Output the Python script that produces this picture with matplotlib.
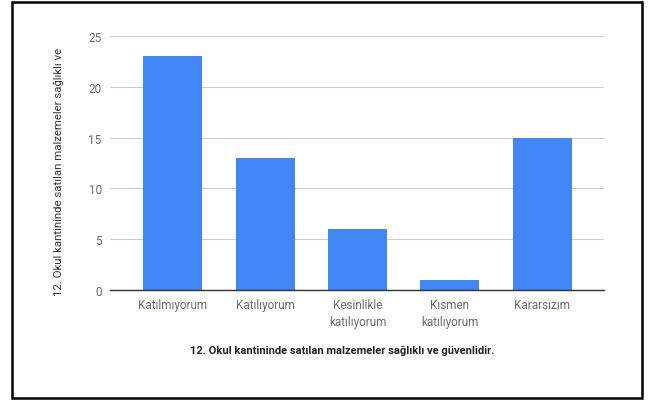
import matplotlib.pyplot as plt
from matplotlib.patches import Rectangle

plt.rcParams['font.family'] = ['Roboto', 'DejaVu Sans']

categories = ['Katılmıyorum', 'Katılıyorum', 'Kesinlikle\nkatılıyorum', 'Kısmen\nkatılıyorum', 'Kararsızım']
counts = [23, 13, 6, 1, 15]
y_ticks = [0, 5, 10, 15, 20, 25]
question = '12. Okul kantininde satılan malzemeler sağlıklı ve güvenlidir.'
y_title = '12. Okul kantininde satılan malzemeler sağlıklı ve'

fig = plt.figure(figsize=(6.53, 4.02), dpi=100)
ax = fig.add_axes([0.1685, 0.276, 0.7565, 0.632])

x = list(range(len(categories)))
ax.bar(x, counts, width=0.64, color='#4285F4', zorder=3)
ax.set_xlim(-0.68, len(categories) - 1 + 0.67)
ax.set_ylim(0, 25)
ax.set_yticks(y_ticks)
ax.set_xticks(x)
ax.set_xticklabels(categories, linespacing=1.35)
ax.tick_params(axis='both', length=0, labelsize=8.5, colors='#6a6a6a')
ax.tick_params(axis='x', pad=6)
ax.tick_params(axis='y', pad=6)
ax.grid(axis='y', color='#cccccc', linewidth=0.8, zorder=0)
for side in ['top', 'right', 'left']:
    ax.spines[side].set_visible(False)
ax.spines['bottom'].set_color('#333333')
ax.spines['bottom'].set_linewidth(1.0)
ax.spines['bottom'].set_zorder(4)

# axis titles
fig.text(59 / 653, 1 - 172 / 402, y_title, rotation=90, ha='center', va='center',
         fontsize=8.2, color='#333333')
fig.text(342 / 653, 1 - 351 / 402, question, ha='center', va='center',
         fontsize=8, fontweight='bold', color='#222222')

# black frame around the chart
fig.patches.append(Rectangle((12 / 653, 3 / 402), 630 / 653, 396 / 402,
                             transform=fig.transFigure, fill=False,
                             edgecolor='black', linewidth=1.8))

fig.savefig('out.png', dpi=100)
